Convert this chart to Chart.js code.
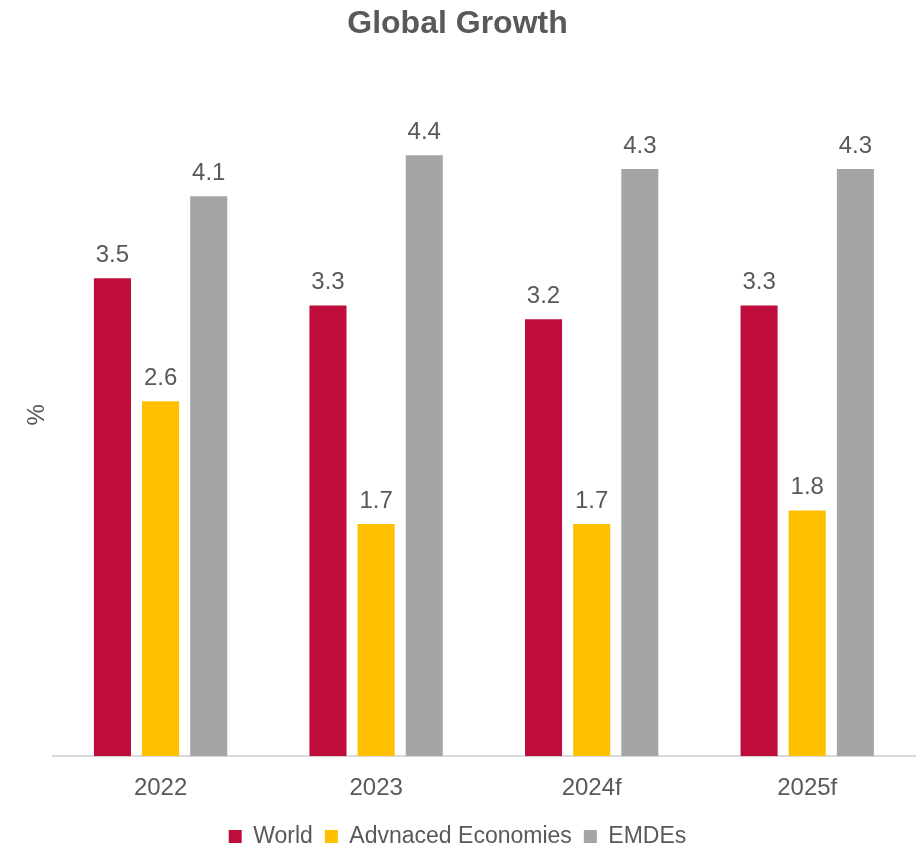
<!DOCTYPE html>
<html>
<head>
<meta charset="utf-8">
<title>Global Growth</title>
<script src="https://cdn.jsdelivr.net/npm/chart.js@4"></script>
<style>
  body { margin: 0; background: #fff; }
  #wrap { width: 922px; height: 852px; position: relative; }
</style>
</head>
<body>
<div id="wrap"><canvas id="chart"></canvas></div>
<script>
const years = ['2022', '2023', '2024f', '2025f'];
const world = [3.5, 3.3, 3.2, 3.3];
const advanced = [2.6, 1.7, 1.7, 1.8];
const emdes = [4.1, 4.4, 4.3, 4.3];

const textColor = '#595959';
const fontFamily = '"Liberation Sans", Arial, sans-serif';

// draws the value above each bar
const barLabels = {
  id: 'barLabels',
  afterDatasetsDraw(chart) {
    const ctx = chart.ctx;
    ctx.save();
    ctx.font = '24px ' + fontFamily;
    ctx.fillStyle = textColor;
    ctx.textAlign = 'center';
    ctx.textBaseline = 'bottom';
    chart.data.datasets.forEach((ds, i) => {
      chart.getDatasetMeta(i).data.forEach((bar, j) => {
        ctx.fillText(ds.data[j].toFixed(1), bar.x, bar.y - 11);
      });
    });
    ctx.restore();
  }
};

new Chart(document.getElementById('chart'), {
  type: 'bar',
  data: {
    labels: years,
    datasets: [
      { label: 'World', data: world, backgroundColor: '#BE0D3A' },
      { label: 'Advnaced Economies', data: advanced, backgroundColor: '#FFC000' },
      { label: 'EMDEs', data: emdes, backgroundColor: '#A5A5A5' }
    ]
  },
  options: {
    responsive: true,
    maintainAspectRatio: false,
    animation: false,
    categoryPercentage: 0.67,
    barPercentage: 0.77,
    layout: { padding: { left: 0, right: 7, top: 5, bottom: -6 } },
    plugins: {
      title: {
        display: true,
        text: 'Global Growth',
        color: textColor,
        font: { family: fontFamily, size: 32, weight: 'bold' },
        padding: { top: 0, bottom: 30 }
      },
      legend: {
        position: 'bottom',
        labels: {
          color: textColor,
          font: { family: fontFamily, size: 23 },
          boxWidth: 13,
          boxHeight: 13,
          padding: 12
        }
      },
      tooltip: { enabled: false }
    },
    scales: {
      x: {
        grid: { display: false },
        border: { display: true, color: '#D9D9D9', width: 2 },
        ticks: {
          color: textColor,
          font: { family: fontFamily, size: 24 },
          padding: 10
        }
      },
      y: {
        min: 0,
        max: 5,
        grid: { display: false },
        border: { display: false },
        ticks: { display: false },
        title: {
          display: true,
          text: '%',
          color: textColor,
          font: { family: fontFamily, size: 24 },
          padding: { top: 23, bottom: -7 }
        }
      }
    }
  },
  plugins: [barLabels]
});
</script>
</body>
</html>
